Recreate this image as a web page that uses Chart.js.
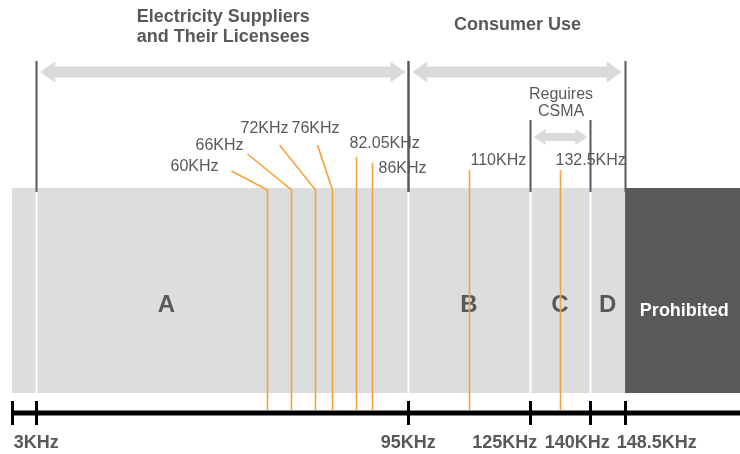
<!DOCTYPE html>
<html>
<head>
<meta charset="utf-8">
<script src="https://cdn.jsdelivr.net/npm/chart.js@4.4.1/dist/chart.umd.min.js"></script>
<style>
  html, body { margin: 0; padding: 0; background: #fff; }
  #wrap { width: 740px; height: 454px; }
</style>
</head>
<body>
<div id="wrap"><canvas id="bandChart"></canvas></div>
<script>
// Frequency bands (KHz)
const bandNames = ['A', 'B', 'C', 'D', 'Prohibited'];
const bandStarts = [3, 95, 125, 140, 148.5];
const bandEnds = [95, 125, 140, 148.5, 177];

// Axis ticks
const tickValues = [3, 95, 125, 140, 148.5];
const tickLabels = ['3KHz', '95KHz', '125KHz', '140KHz', '148.5KHz'];

// Carrier frequencies marked in orange
const carrierFreqs = [60, 66, 72, 76, 82.05, 86, 110, 132.5];
const carrierLabels = ['60KHz', '66KHz', '72KHz', '76KHz', '82.05KHz', '86KHz', '110KHz', '132.5KHz'];

// Usage groups shown above the band
const groupNames = [['Electricity Suppliers', 'and Their Licensees'], ['Consumer Use'], ['Reguires', 'CSMA']];
const groupStarts = [3, 95, 125];
const groupEnds = [95, 148.5, 140];

const X_MIN = -3;
const X_MAX = 177;

const GREY = '#dcdddf';
const DARK = '#58595b';
const ORANGE = '#f7a23c';
const ARROW = '#d9dadb';
const FONT = "'Liberation Sans', Arial, sans-serif";

// label placement relative to each orange line
const leaderStyle = [
    { tx: -49, ty: 167, align: 'right', lx: -36, ly: 171 },
    { tx: -48, ty: 146, align: 'right', lx: -44, ly: 154 },
    { tx: -51, ty: 129, align: 'center', lx: -36, ly: 145 },
    { tx: -17, ty: 129, align: 'center', lx: -15, ly: 145 },
    { tx: -7, ty: 144, align: 'left', top: 157 },
    { tx: 6, ty: 169, align: 'left', top: 163 },
    { tx: 1, ty: 161, align: 'left', top: 170 },
    { tx: -5, ty: 161, align: 'left', top: 170 }
];

const groupStyle = [
    { lineTop: 61, arrowY: 72, shaft: 11, headW: 21, headL: 15, textY: [17, 37], bold: true, size: 18 },
    { lineTop: 61, arrowY: 72, shaft: 11, headW: 21, headL: 15, textY: [25], bold: true, size: 18 },
    { lineTop: 120, arrowY: 137, shaft: 8, headW: 16, headL: 12, textY: [95, 112], bold: false, size: 16 }
];

function doubleArrow(ctx, x1, x2, y, shaft, headW, headL) {
    ctx.beginPath();
    ctx.moveTo(x1, y);
    ctx.lineTo(x1 + headL, y - headW / 2);
    ctx.lineTo(x1 + headL, y - shaft / 2);
    ctx.lineTo(x2 - headL, y - shaft / 2);
    ctx.lineTo(x2 - headL, y - headW / 2);
    ctx.lineTo(x2, y);
    ctx.lineTo(x2 - headL, y + headW / 2);
    ctx.lineTo(x2 - headL, y + shaft / 2);
    ctx.lineTo(x1 + headL, y + shaft / 2);
    ctx.lineTo(x1 + headL, y + headW / 2);
    ctx.closePath();
    ctx.fill();
}

function vline(ctx, x, y1, y2, color, width) {
    ctx.beginPath();
    ctx.strokeStyle = color;
    ctx.lineWidth = width;
    ctx.moveTo(x, y1);
    ctx.lineTo(x, y2);
    ctx.stroke();
}

const diagramPlugin = {
    id: 'diagram',
    afterDatasetsDraw(chart) {
        const ctx = chart.ctx;
        const xs = chart.scales.x;
        const area = chart.chartArea;
        const px = v => xs.getPixelForValue(v);
        ctx.save();

        // white separators inside the band
        tickValues.forEach(v => {
            if (v < 148.5) vline(ctx, Math.round(px(v)) + 0.5, area.top, area.bottom, '#ffffff', 2);
        });

        // band letters
        bandNames.forEach((name, i) => {
            const frac = i === 0 ? 0.35 : 0.5;
            const x = px(bandStarts[i]) + (px(Math.min(bandEnds[i], X_MAX)) - px(bandStarts[i])) * frac;
            ctx.textAlign = 'center';
            ctx.textBaseline = 'middle';
            if (name === 'Prohibited') {
                ctx.fillStyle = '#ffffff';
                ctx.font = 'bold 18px ' + FONT;
                ctx.fillText(name, (px(bandStarts[i]) + area.right) / 2 + 2, 311);
            } else {
                ctx.fillStyle = DARK;
                ctx.font = 'bold 24px ' + FONT;
                ctx.fillText(name, x, 305);
            }
        });

        // orange carrier lines with labels
        carrierFreqs.forEach((f, i) => {
            const x = Math.round(px(f)) + 0.5;
            const s = leaderStyle[i];
            ctx.strokeStyle = ORANGE;
            ctx.lineWidth = 1.6;
            ctx.beginPath();
            if (s.lx !== undefined) {
                ctx.moveTo(x + s.lx, s.ly);
                ctx.lineTo(x, 190);
            } else {
                ctx.moveTo(x, s.top);
            }
            ctx.lineTo(x, 410);
            ctx.stroke();

            ctx.fillStyle = DARK;
            ctx.font = '16px ' + FONT;
            ctx.textAlign = s.align;
            ctx.textBaseline = 'middle';
            ctx.fillText(carrierLabels[i], x + s.tx, s.ty);
        });

        // group dividers, arrows and titles
        groupNames.forEach((lines, i) => {
            const g = groupStyle[i];
            const x1 = px(groupStarts[i]);
            const x2 = px(groupEnds[i]);
            vline(ctx, Math.round(x1) + 0.5, g.lineTop, 192, DARK, 2);
            vline(ctx, Math.round(x2) + 0.5, g.lineTop, 192, DARK, 2);
            ctx.fillStyle = ARROW;
            doubleArrow(ctx, x1 + 4, x2 - 3, g.arrowY, g.shaft, g.headW, g.headL);
            ctx.fillStyle = DARK;
            ctx.font = (g.bold ? 'bold ' : '') + g.size + 'px ' + FONT;
            ctx.textAlign = 'center';
            ctx.textBaseline = 'middle';
            lines.forEach((t, k) => ctx.fillText(t, (x1 + x2) / 2 + 1, g.textY[k]));
        });

        // frequency axis
        ctx.strokeStyle = '#000000';
        ctx.lineWidth = 5;
        ctx.beginPath();
        ctx.moveTo(area.left, 413);
        ctx.lineTo(chart.width, 413);
        ctx.stroke();
        const labelShift = [0, 0, -25, -13, 32];
        [area.left].concat(tickValues.map(px)).forEach(x => {
            vline(ctx, Math.round(x) + 0.5, 401, 425, '#000000', 3);
        });
        ctx.fillStyle = DARK;
        ctx.font = 'bold 18px ' + FONT;
        ctx.textAlign = 'center';
        ctx.textBaseline = 'middle';
        tickValues.forEach((v, i) => {
            ctx.fillText(tickLabels[i], px(v) + labelShift[i], 443);
        });

        ctx.restore();
    }
};

const datasets = bandNames.map((name, i) => ({
    label: name,
    data: [[i === 0 ? X_MIN : bandStarts[i], bandEnds[i]]],
    backgroundColor: name === 'Prohibited' ? DARK : GREY,
    borderWidth: 0,
    grouped: false,
    barPercentage: 1,
    categoryPercentage: 1
}));

new Chart(document.getElementById('bandChart').getContext('2d'), {
    type: 'bar',
    data: { labels: ['band'], datasets: datasets },
    options: {
        indexAxis: 'y',
        responsive: true,
        maintainAspectRatio: false,
        animation: false,
        layout: { padding: { left: 12, right: 0, top: 188, bottom: 61 } },
        plugins: {
            legend: { display: false },
            tooltip: { enabled: false }
        },
        scales: {
            x: { type: 'linear', min: X_MIN, max: X_MAX, display: false },
            y: { display: false }
        }
    },
    plugins: [diagramPlugin]
});
</script>
</body>
</html>
